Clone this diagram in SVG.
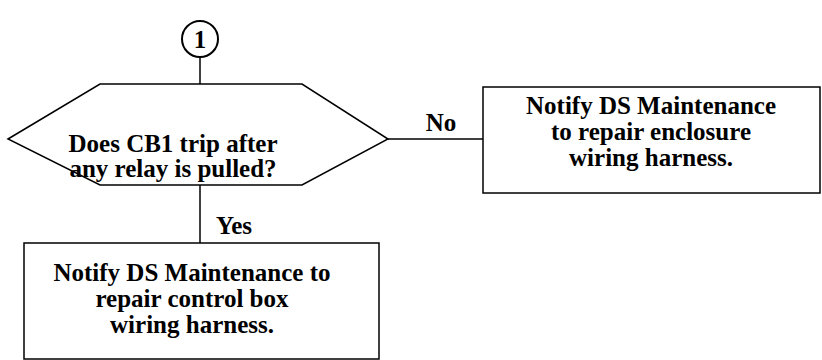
<svg xmlns="http://www.w3.org/2000/svg" width="822" height="360" viewBox="0 0 822 360">
  <style>
    .shape { fill: #fff; stroke: #000; stroke-width: 1.5; }
    .ring { fill: #fff; stroke: #000; stroke-width: 2; }
    .wire { fill: none; stroke: #000; stroke-width: 1.5; }
    text { font-family: "Liberation Serif", "Times New Roman", serif; font-weight: bold; font-size: 25px; fill: #000; text-anchor: middle; }
  </style>
  <rect width="822" height="360" fill="#fff"/>

  <g id="connectors">
    <line class="wire" x1="200" y1="57" x2="200" y2="84"/>
    <line class="wire" x1="388" y1="139" x2="483" y2="139"/>
    <line class="wire" x1="200" y1="185" x2="200" y2="243"/>
    <text x="441" y="131">No</text>
    <text x="234" y="234">Yes</text>
  </g>

  <g id="start">
    <circle class="ring" cx="200" cy="39" r="18"/>
    <text x="200" y="48">1</text>
  </g>

  <g id="decision">
    <polygon class="shape" points="8,139 100,84 302,84 388,139 302,185 100,185"/>
    <text x="173" y="152">Does CB1 trip after</text>
    <text x="173" y="177">any relay is pulled?</text>
  </g>

  <g id="notify-enclosure">
    <rect class="shape" x="483" y="87" width="337" height="106"/>
    <text x="651" y="114">Notify DS Maintenance</text>
    <text x="651" y="140">to repair enclosure</text>
    <text x="651" y="166">wiring harness.</text>
  </g>

  <g id="notify-control-box">
    <rect class="shape" x="24" y="243" width="355" height="116"/>
    <text x="192" y="281">Notify DS Maintenance to</text>
    <text x="192" y="307">repair control box</text>
    <text x="192" y="333">wiring harness.</text>
  </g>
</svg>
